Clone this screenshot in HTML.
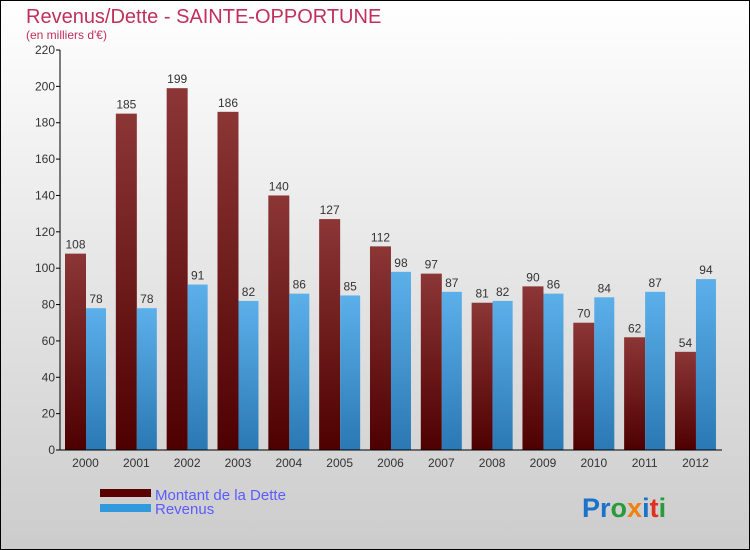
<!DOCTYPE html>
<html><head><meta charset="utf-8"><style>
body{margin:0;}
svg{display:block;font-family:"Liberation Sans",sans-serif;}
</style></head><body>
<svg id="chart" width="750" height="550" viewBox="0 0 750 550">
<defs>
<linearGradient id="bg" x1="0" y1="0" x2="0" y2="1"><stop offset="0" stop-color="#ffffff"/><stop offset="1" stop-color="#cccccc"/></linearGradient>
<linearGradient id="gd" x1="0" y1="0" x2="0" y2="1"><stop offset="0" stop-color="#8c3636"/><stop offset="1" stop-color="#4e0000"/></linearGradient>
<linearGradient id="gr" x1="0" y1="0" x2="0" y2="1"><stop offset="0" stop-color="#5cb0ea"/><stop offset="1" stop-color="#2a78b4"/></linearGradient>
</defs>
<rect x="0" y="0" width="750" height="550" fill="url(#bg)"/>
<rect x="0.5" y="0.5" width="749" height="549" fill="none" stroke="#000" stroke-width="1"/>
<text x="26" y="23" font-size="20" fill="#c0305a">Revenus/Dette - SAINTE-OPPORTUNE</text>
<text x="26" y="39" font-size="12" fill="#c0305a">(en milliers d'€)</text>
<g id="plot"></g>
<g>
<rect x="100" y="489" width="51" height="8" fill="#5a0000"/>
<text x="155" y="500" font-size="15" fill="#5b5bff">Montant de la Dette</text>
<rect x="100" y="504" width="51" height="8" fill="#3399dd"/>
<text x="155" y="514" font-size="15" fill="#5b5bff">Revenus</text>
</g>
<text x="582" y="517" font-size="27" font-weight="bold"><tspan fill="#1a73c8">Pr</tspan><tspan fill="#2a9a3a">o</tspan><tspan fill="#f08010">x</tspan><tspan fill="#1a73c8">i</tspan><tspan fill="#e03020">t</tspan><tspan fill="#2a9a3a">i</tspan></text>
</svg>
<script>
const years=["2000","2001","2002","2003","2004","2005","2006","2007","2008","2009","2010","2011","2012"];
const dette=[108,185,199,186,140,127,112,97,81,90,70,62,54];
const revenus=[78,78,91,82,86,85,98,87,82,86,84,87,94];
const yTicks=[0,20,40,60,80,100,120,140,160,180,200,220];
const NS="http://www.w3.org/2000/svg";
const g=document.getElementById('plot');
const x0=60,yBase=450,yTop=50,yMax=220,step=50.83;
const y=v=>yBase-v/yMax*(yBase-yTop);
function mk(t,a,p){const e=document.createElementNS(NS,t);for(const k in a)e.setAttribute(k,a[k]);(p||g).appendChild(e);return e;}
yTicks.forEach(t=>{
 const tk=mk('line',{x1:x0-4,x2:x0,y1:y(t),y2:y(t),stroke:'#000'});
 
 
 const l=mk('text',{x:x0-5,y:y(t)+4,'font-size':12,'text-anchor':'end',fill:'#333'});
 l.textContent=t;
 
 
});
years.forEach((yr,i)=>{
 const gx=x0+5+i*step;
 const b1=mk('rect',{x:gx,y:y(dette[i]),width:21,height:yBase-y(dette[i]),fill:'url(#gd)'});
 
 
 const b2=mk('rect',{x:gx+21,y:y(revenus[i]),width:20,height:yBase-y(revenus[i]),fill:'url(#gr)'});
 
 
 const v1=mk('text',{x:gx+10.5,y:y(dette[i])-5,'font-size':12,'text-anchor':'middle',fill:'#333'});
 v1.textContent=dette[i];
 
 
 const v2=mk('text',{x:gx+31,y:y(revenus[i])-5,'font-size':12,'text-anchor':'middle',fill:'#333'});
 v2.textContent=revenus[i];
 
 
 const xl=mk('text',{x:gx+20.5,y:467,'font-size':12,'text-anchor':'middle',fill:'#333'});
 xl.textContent=yr;
 
 
});
const ya=mk('line',{x1:x0,x2:x0,y1:yTop,y2:yBase,stroke:'#000'});


const xa=mk('line',{x1:x0,x2:722,y1:yBase,y2:yBase,stroke:'#000'});


</script>
</body></html>
